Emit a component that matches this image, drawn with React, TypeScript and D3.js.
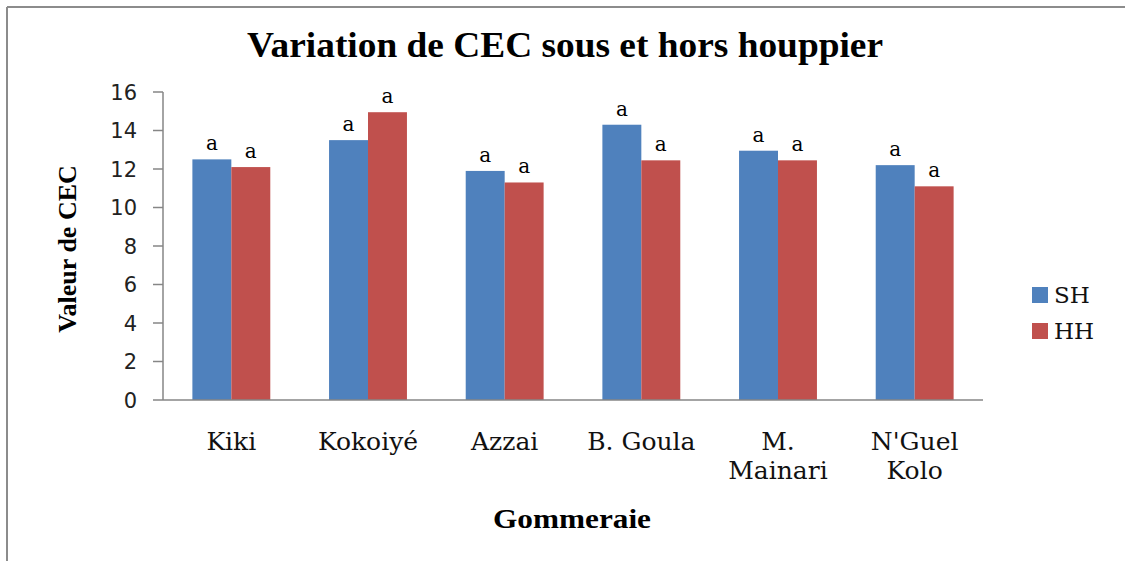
import React from 'react';
import * as d3 from 'd3';

// values
const categories = ['Kiki', 'Kokoiyé', 'Azzai', 'B. Goula', 'M.|Mainari', "N'Guel|Kolo"];
const seriesNames = ['SH', 'HH'];
const shValues = [12.5, 13.5, 11.9, 14.3, 12.95, 12.2];
const hhValues = [12.1, 14.95, 11.3, 12.45, 12.45, 11.1];
const letters = ['a', 'a', 'a', 'a', 'a', 'a'];
const yTicks = [0, 2, 4, 6, 8, 10, 12, 14, 16];

const colors = ['#4F81BD', '#C0504D'];

const W = 1125;
const H = 561;
const left = 163;
const right = 983;
const top = 92;
const bottom = 400;

const App = () => {
  const x = d3.scaleBand().domain(categories).range([left, right]).paddingInner(0.43).paddingOuter(0.215);
  const x1 = d3.scaleBand().domain(seriesNames).range([0, x.bandwidth()]);
  const y = d3.scaleLinear().domain([0, 16]).range([bottom, top]);
  const series = [shValues, hhValues];

  return (
    <div style={{ position: 'absolute', left: 0, top: 0 }}>
      <svg width={W} height={H} style={{ display: 'block', background: '#fff' }}>
        {/* frame */}
        <line x1={7} y1={7} x2={W} y2={7} stroke="#8c8c8c" strokeWidth={2} />
        <line x1={7} y1={7} x2={7} y2={H} stroke="#8c8c8c" strokeWidth={2} />

        <text
          x={565}
          y={57}
          textAnchor="middle"
          fontFamily="'Liberation Serif', serif"
          fontWeight="bold"
          fontSize={36}
          textLength={636}
          lengthAdjust="spacingAndGlyphs"
        >
          Variation de CEC  sous et hors houppier
        </text>

        {/* bars */}
        {categories.map((c, i) => (
          <g key={c} transform={`translate(${x(c)},0)`}>
            {series.map((vals, s) => (
              <g key={s}>
                <rect
                  x={x1(seriesNames[s])}
                  y={y(vals[i])}
                  width={x1.bandwidth()}
                  height={bottom - y(vals[i])}
                  fill={colors[s]}
                />
                <text
                  x={(x1(seriesNames[s]) as number) + x1.bandwidth() / 2}
                  y={y(vals[i]) - 9}
                  textAnchor="middle"
                  fontFamily="'DejaVu Serif', serif"
                  fontSize={20}
                >
                  {letters[i]}
                </text>
              </g>
            ))}
          </g>
        ))}

        {/* y axis */}
        <line x1={left} y1={top} x2={left} y2={bottom} stroke="#868686" strokeWidth={1.5} />
        {yTicks.map((t) => (
          <g key={t}>
            <line x1={left - 10} y1={y(t)} x2={left} y2={y(t)} stroke="#868686" strokeWidth={1.5} />
            <text
              x={137}
              y={y(t)}
              dy="0.36em"
              textAnchor="end"
              fontFamily="'DejaVu Sans', sans-serif"
              fontSize={21}
              fill="#222"
            >
              {t}
            </text>
          </g>
        ))}

        {/* x axis */}
        <line x1={left} y1={bottom} x2={right} y2={bottom} stroke="#868686" strokeWidth={1.5} />
        {categories.map((c) => {
          const cx = (x(c) as number) + x.bandwidth() / 2;
          return (
            <text
              key={c}
              x={cx}
              y={450}
              textAnchor="middle"
              fontFamily="'DejaVu Serif', serif"
              fontSize={25}
              fill="#111"
            >
              {c.split('|').map((part, k) => (
                <tspan key={k} x={cx} dy={k === 0 ? 0 : 29}>
                  {part}
                </tspan>
              ))}
            </text>
          );
        })}

        <text
          x={572}
          y={528}
          textAnchor="middle"
          fontFamily="'Liberation Serif', serif"
          fontWeight="bold"
          fontSize={28}
          textLength={158}
          lengthAdjust="spacingAndGlyphs"
        >
          Gommeraie
        </text>

        <text
          transform={`translate(76,249) rotate(-90)`}
          textAnchor="middle"
          fontFamily="'Liberation Serif', serif"
          fontWeight="bold"
          fontSize={26}
        >
          Valeur de CEC
        </text>

        {/* legend */}
        {seriesNames.map((n, s) => (
          <g key={n} transform={`translate(1032,${295 + s * 36})`}>
            <rect x={0} y={-8} width={16} height={16} fill={colors[s]} />
            <text x={22} y={0} dy="0.36em" fontFamily="'DejaVu Serif', serif" fontSize={23} fill="#111">
              {n}
            </text>
          </g>
        ))}
      </svg>
    </div>
  );
};

export default App;
